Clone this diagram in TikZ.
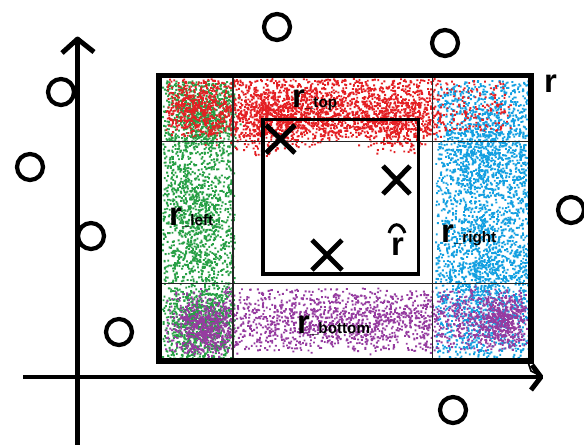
\documentclass[tikz,border=0pt]{standalone}
\usepackage{fontspec}
\setmainfont{Liberation Sans}
\definecolor{cR}{RGB}{228,32,36}
\definecolor{cG}{RGB}{40,160,70}
\definecolor{cB}{RGB}{20,160,225}
\definecolor{cP}{RGB}{150,60,160}
\newcommand\cloudU[6]{\fill[#1] foreach \i in {1,...,#2}{({#3+(#4)*rnd},{#5+(#6)*rnd}) rectangle ++(1.9,1.9)};}
\newcommand\cloudT[6]{\fill[#1] foreach \i in {1,...,#2}{({#3+(#4)*(rnd+rnd)/2},{#5+(#6)*(rnd+rnd)/2}) rectangle ++(1.9,1.9)};}
\newcommand\myR{\fontsize{28}{28}\selectfont\bfseries r}
\newcommand\mysub[1]{{\fontsize{13}{13}\selectfont\bfseries\_#1}}
\begin{document}
\begin{tikzpicture}[x=0.03cm,y=-0.03cm,
  thickbox/.style={line width=4.3pt},
  gridline/.style={line width=0.9pt,black!85},
  innerbox/.style={line width=3.2pt},
  xmark/.style={line width=4.2pt},
  axisline/.style={line width=4.2pt},
  circ/.style={circle,draw,line width=3.6pt,minimum size=0.78cm,inner sep=0pt},
  lbl/.style={anchor=base west,inner sep=0pt}]
\useasboundingbox (0,0) rectangle (584,445);
\fill[white] (0,0) rectangle (584,445);
\pgfmathsetseed{7}
% green cloud
\cloudU{cG}{1800}{162}{72}{80}{278}
\cloudT{cG}{500}{160}{80}{80}{75}
\cloudT{cG}{500}{165}{70}{285}{75}
\cloudT{cG}{300}{168}{55}{150}{140}
% blue cloud
\cloudU{cB}{2000}{435}{93}{80}{278}
\cloudT{cB}{600}{440}{90}{85}{120}
\cloudT{cB}{600}{440}{90}{190}{160}
% red cloud
\cloudU{cR}{1400}{165}{275}{78}{58}
\cloudT{cR}{900}{165}{280}{78}{70}
\cloudT{cR}{300}{230}{75}{85}{75}
\cloudT{cR}{300}{355}{85}{90}{65}
\cloudU{cR}{150}{440}{70}{80}{50}
\cloudT{cR}{200}{165}{60}{82}{50}
% purple cloud
\cloudU{cP}{800}{165}{360}{288}{62}
\cloudT{cP}{1000}{165}{365}{285}{70}
\cloudT{cP}{400}{172}{68}{298}{62}
\cloudT{cP}{400}{468}{62}{288}{62}
% grid
\draw[gridline] (233,77) -- (233,359);
\draw[gridline] (432.5,77) -- (432.5,359);
\draw[gridline] (161,141.7) -- (529,141.7);
\draw[gridline] (161,283.3) -- (529,283.3);
% inner box
\draw[innerbox] (263,119.5) rectangle (418.5,274);
% outer box
\draw[thickbox] (159,75.5) rectangle (531,361);
\draw[line width=1.4pt] (528,362) -- (531,371) -- (537,374);
% X marks
\draw[xmark] (266,125) -- (295,153) (295,125) -- (266,153);
\draw[xmark] (383,166) -- (410,194) (410,166) -- (383,194);
\draw[xmark] (312,240) -- (342,270) (342,240) -- (312,270);
% labels
\node[lbl] (Rout) at (544,92) {\myR};
\node[lbl] (Rtop) at (292,107) {\myR\mysub{top}};
\node[lbl] (Rleft) at (169,225) {\myR\mysub{left}};
\node[lbl] (Rright) at (441,242) {\myR\mysub{right}};
\node[lbl] (Rbottom) at (297,333) {\myR\mysub{bottom}};
\node[lbl] (Rhat) at (391,255) {\myR};
\draw[line width=2.6pt] (389,233) .. controls (392,222) and (401,222) .. (405,233);
% axes
\coordinate (ybot) at (77.5,445);
\coordinate (ytip) at (77.5,39);
\coordinate (xl) at (23,377);
\coordinate (xtip) at (541,377);
\draw[axisline] (ybot) -- (ytip);
\draw[axisline,line join=round] (62,53) -- (ytip) -- (94,52);
\draw[axisline] (xl) -- (xtip);
\draw[axisline,line join=round] (532,365) -- (xtip) -- (531,390);
% circles
\node[circ] (c1) at (61,92) {};
\node[circ] (c2) at (30,167) {};
\node[circ] (c3) at (91,236) {};
\node[circ] (c4) at (119,332) {};
\node[circ] (c5) at (277,27) {};
\node[circ] (c6) at (445,43) {};
\node[circ] (c7) at (571,210) {};
\node[circ] (c8) at (453,410) {};
\end{tikzpicture}
\end{document}
